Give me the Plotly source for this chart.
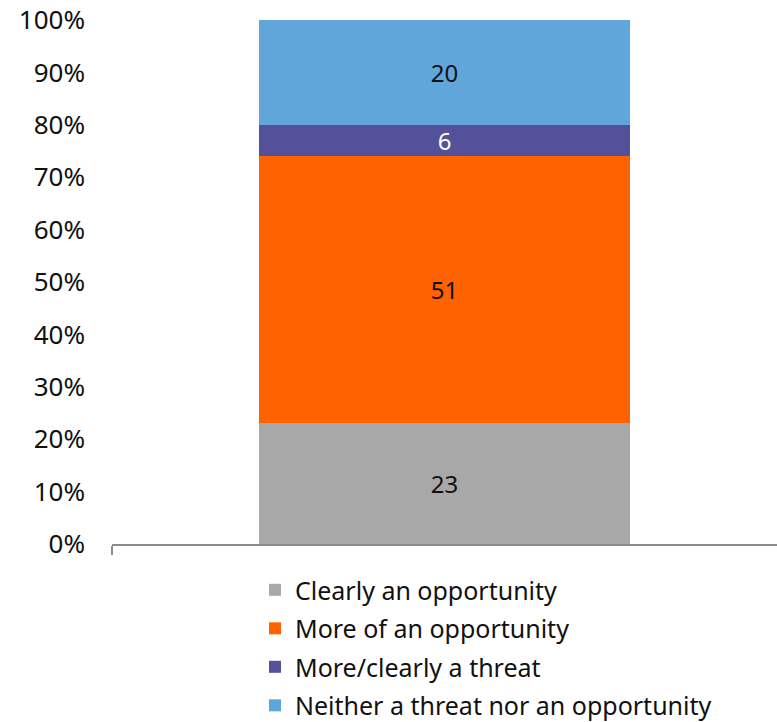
import plotly.graph_objects as go

categories = ["Clearly an opportunity", "More of an opportunity",
              "More/clearly a threat", "Neither a threat nor an opportunity"]
values = [23, 51, 6, 20]
colors = ["#A8A8A8", "#FF6200", "#525199", "#60A6DA"]
label_colors = ["#111111", "#111111", "#FFFFFF", "#111111"]
y_ticks = [0, 10, 20, 30, 40, 50, 60, 70, 80, 90, 100]
y_tick_text = [f"{t}%" for t in y_ticks]

FONT = "Noto Sans, Arial, sans-serif"

fig = go.Figure()
for name, v, c, lc in zip(categories, values, colors, label_colors):
    fig.add_trace(go.Bar(
        x=[0], y=[v], name=name, width=0.558, legendgroup=name,
        marker=dict(color=c, line=dict(width=0)),
        text=[str(v)], textposition="inside", insidetextanchor="middle",
        textangle=0, constraintext="none",
        textfont=dict(family=FONT, size=24, color=lc),
        hoverinfo="skip",
    ))

fig.update_layout(
    barmode="stack",
    width=777, height=722,
    margin=dict(l=112, r=0, t=20, b=178, autoexpand=False),
    plot_bgcolor="white", paper_bgcolor="white",
    font=dict(family=FONT, color="#111111"),
    showlegend=True,
    legend=dict(
        x=0.215, xanchor="left", y=-0.044, yanchor="top",
        traceorder="grouped", orientation="v",
        font=dict(family=FONT, size=25, color="#111111"),
        itemsizing="constant", tracegroupgap=3,
        bgcolor="rgba(0,0,0,0)",
    ),
    uniformtext=dict(minsize=8, mode="show"),
)
fig.update_xaxes(
    range=[-0.5, 0.5], showgrid=False, zeroline=False,
    showline=True, linecolor="#8C8C8C", linewidth=2,
    tickmode="array", tickvals=[-0.5], ticks="outside", ticklen=9,
    tickcolor="#8C8C8C", tickwidth=1.5, showticklabels=False,
)
fig.update_yaxes(
    range=[0, 100], tickvals=y_ticks, ticktext=y_tick_text,
    showgrid=False, zeroline=False, showline=False,
    ticks="", ticklabelstandoff=26,
    tickfont=dict(family=FONT, size=26, color="#111111"),
)

fig.write_html("out.html")
